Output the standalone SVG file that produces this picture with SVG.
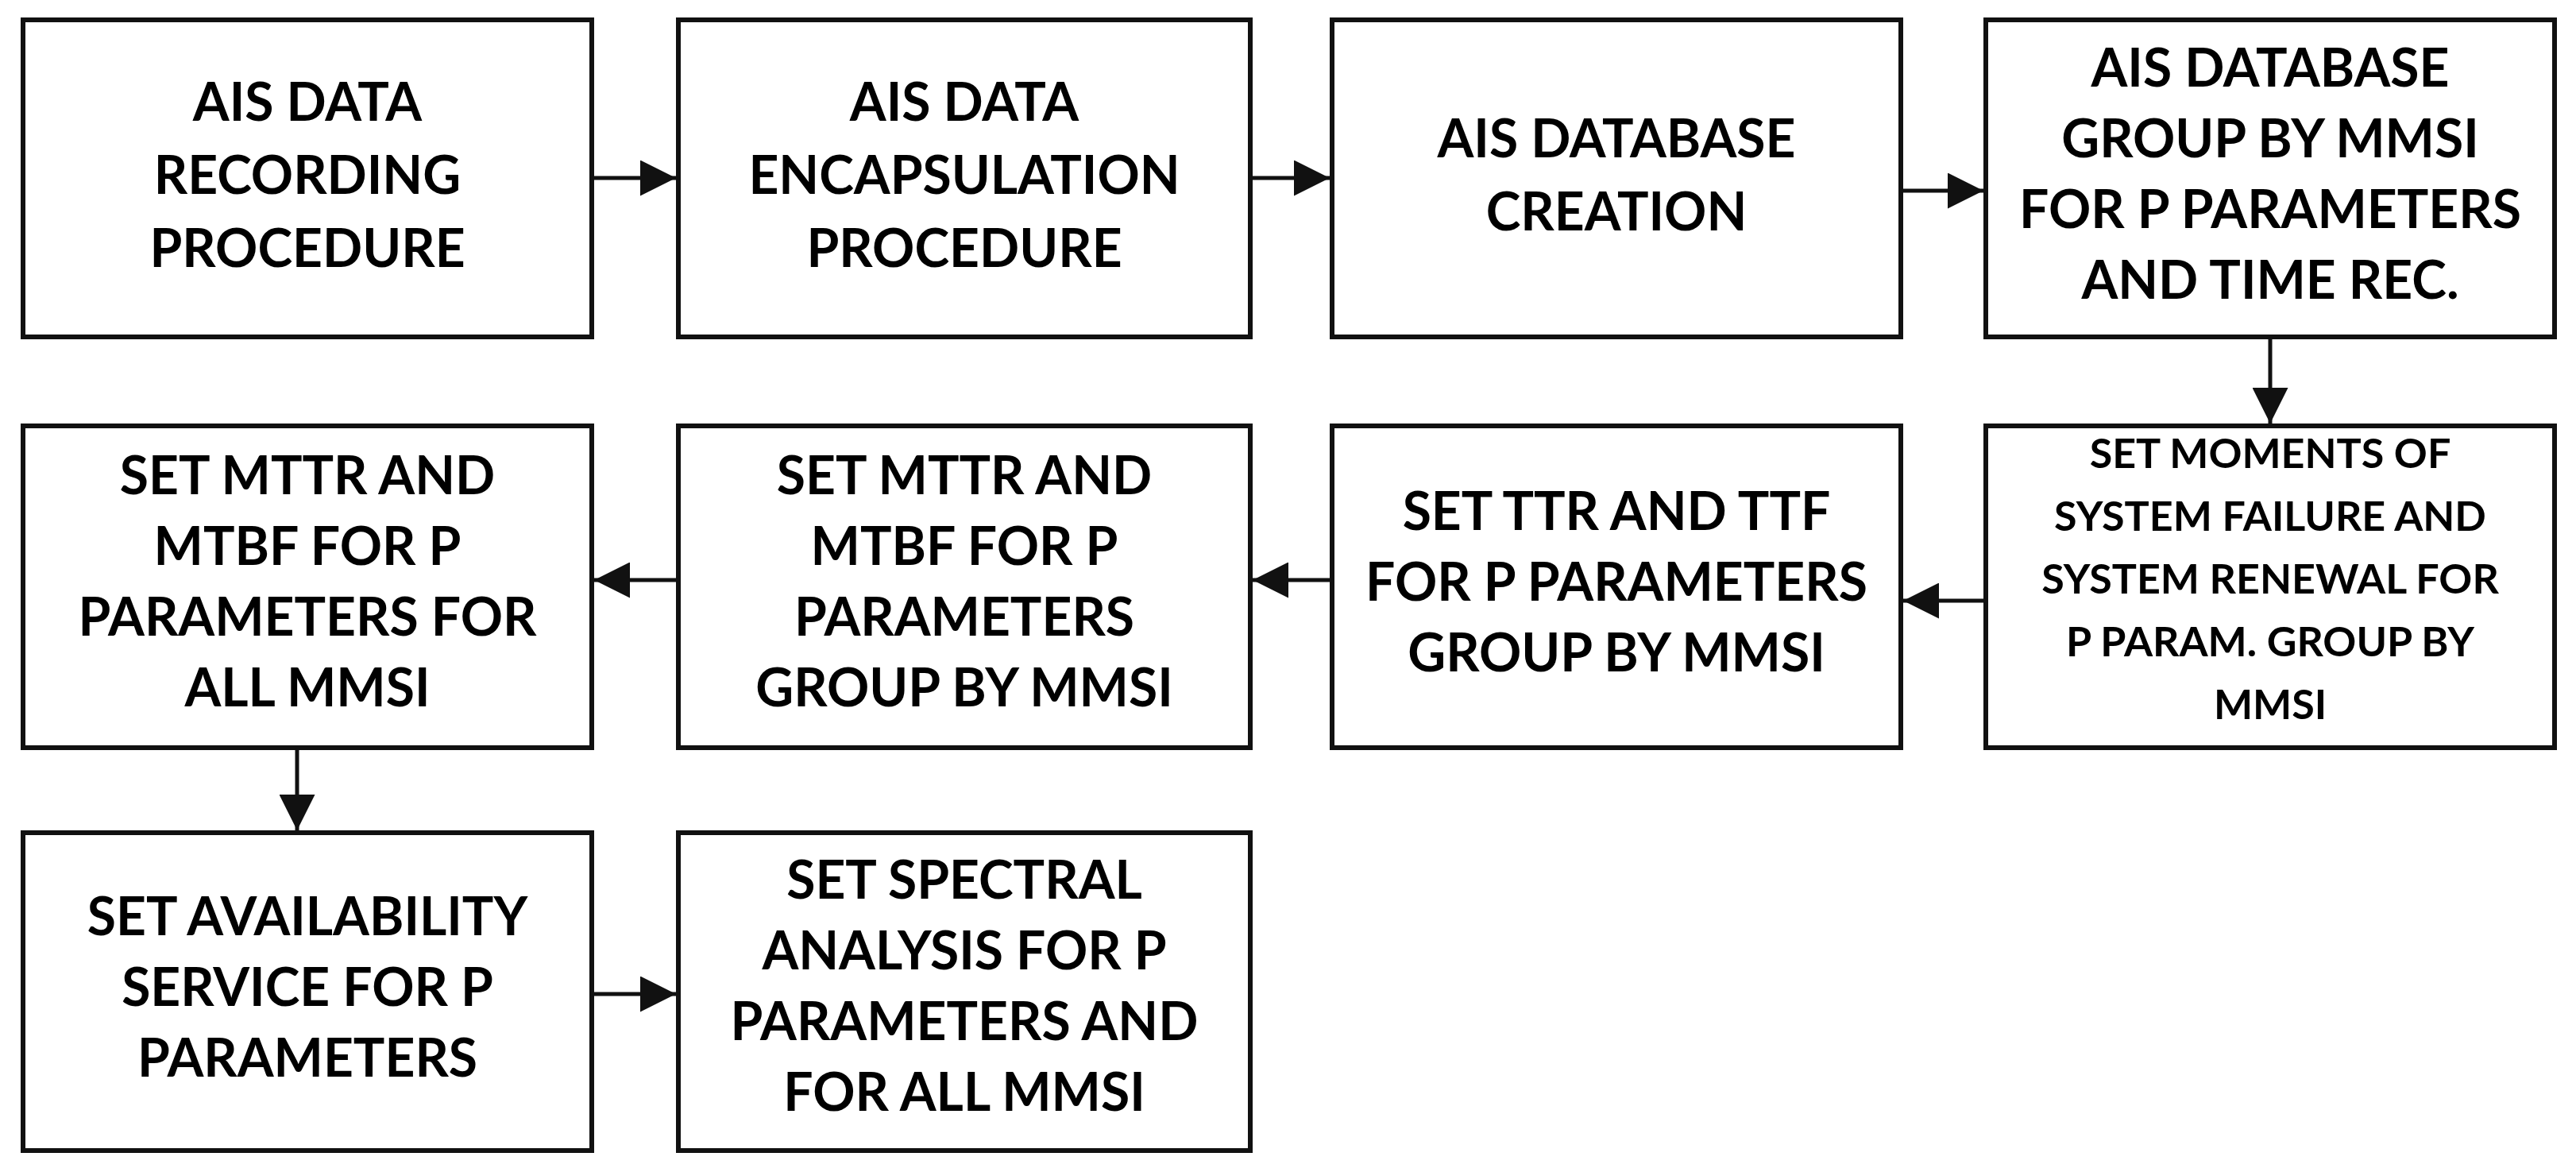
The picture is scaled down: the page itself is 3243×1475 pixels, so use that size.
<svg xmlns="http://www.w3.org/2000/svg" width="3243" height="1475" viewBox="0 0 3243 1475">
<style>
rect{fill:#fff;stroke:#111;stroke-width:6}
text{font-family:Lato,"Open Sans","Liberation Sans",sans-serif;font-weight:bold;font-size:66px;text-anchor:middle;fill:#000}
.s{font-size:52px}
.c{stroke:#111;stroke-width:5;fill:none}
</style>
<defs><marker id="a" viewBox="0 0 10 10" refX="10" refY="5" markerWidth="9" markerHeight="9" markerUnits="strokeWidth" orient="auto"><path d="M0,0L10,5L0,10z" fill="#111"/></marker></defs>
<g id="n1"><rect x="29" y="25" width="716" height="399"/><text x="387" y="152">AIS DATA</text><text x="387" y="244">RECORDING</text><text x="387" y="336">PROCEDURE</text></g>
<g id="n2"><rect x="854" y="25" width="720" height="399"/><text x="1214" y="152">AIS DATA</text><text x="1214" y="244">ENCAPSULATION</text><text x="1214" y="336">PROCEDURE</text></g>
<g id="n3"><rect x="1677" y="25" width="716" height="399"/><text x="2035" y="198">AIS DATABASE</text><text x="2035" y="290">CREATION</text></g>
<g id="n4"><rect x="2500" y="25" width="716" height="399"/><text x="2858" y="109">AIS DATABASE</text><text x="2858" y="198">GROUP BY MMSI</text><text x="2858" y="287">FOR P PARAMETERS</text><text x="2858" y="376">AND TIME REC.</text></g>
<g id="n5"><rect x="29" y="536" width="716" height="405"/><text x="387" y="622">SET MTTR AND</text><text x="387" y="711">MTBF FOR P</text><text x="387" y="800">PARAMETERS FOR</text><text x="387" y="889">ALL MMSI</text></g>
<g id="n6"><rect x="854" y="536" width="720" height="405"/><text x="1214" y="622">SET MTTR AND</text><text x="1214" y="711">MTBF FOR P</text><text x="1214" y="800">PARAMETERS</text><text x="1214" y="889">GROUP BY MMSI</text></g>
<g id="n7"><rect x="1677" y="536" width="716" height="405"/><text x="2035" y="667">SET TTR AND TTF</text><text x="2035" y="756">FOR P PARAMETERS</text><text x="2035" y="845">GROUP BY MMSI</text></g>
<g id="n8"><rect x="2500" y="536" width="716" height="405"/><text class="s" x="2858" y="589">SET MOMENTS OF</text><text class="s" x="2858" y="668">SYSTEM FAILURE AND</text><text class="s" x="2858" y="747">SYSTEM RENEWAL FOR</text><text class="s" x="2858" y="826">P PARAM. GROUP BY</text><text class="s" x="2858" y="905">MMSI</text></g>
<g id="n9"><rect x="29" y="1048" width="716" height="400"/><text x="387" y="1177">SET AVAILABILITY</text><text x="387" y="1266">SERVICE FOR P</text><text x="387" y="1355">PARAMETERS</text></g>
<g id="n10"><rect x="854" y="1048" width="720" height="400"/><text x="1214" y="1131">SET SPECTRAL</text><text x="1214" y="1220">ANALYSIS FOR P</text><text x="1214" y="1309">PARAMETERS AND</text><text x="1214" y="1398">FOR ALL MMSI</text></g>
<g id="connectors">
<path class="c" d="M745,224H851" marker-end="url(#a)"/>
<path class="c" d="M1574,224H1674" marker-end="url(#a)"/>
<path class="c" d="M2393,240H2497" marker-end="url(#a)"/>
<path class="c" d="M2858,424V533" marker-end="url(#a)"/>
<path class="c" d="M2500,756H2396" marker-end="url(#a)"/>
<path class="c" d="M1677,730H1577" marker-end="url(#a)"/>
<path class="c" d="M854,730H748" marker-end="url(#a)"/>
<path class="c" d="M374,941V1045" marker-end="url(#a)"/>
<path class="c" d="M745,1251H851" marker-end="url(#a)"/>
</g>
</svg>
